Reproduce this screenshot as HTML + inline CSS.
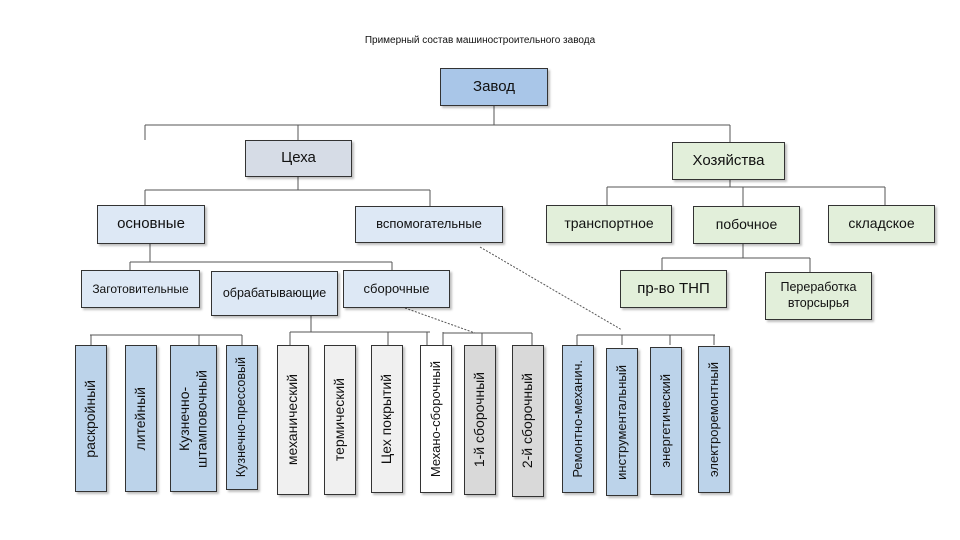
<!DOCTYPE html>
<html><head><meta charset="utf-8"><style>
body{margin:0;width:960px;height:540px;background:#fff;position:relative;overflow:hidden;font-family:"Liberation Sans",sans-serif;color:#111}
.b{position:absolute;box-sizing:border-box;border:1.5px solid #333;display:flex;align-items:center;justify-content:center;text-align:center;box-shadow:2px 2px 2px rgba(0,0,0,.25);line-height:1.25}
.v{writing-mode:vertical-rl;transform:rotate(180deg);font-size:12.5px}
.bl{background:#dde8f5}.gr{background:#e2efda}.db{background:#bcd3ea}.lg{background:#f0f0f0}.mg{background:#d9d9d9}.wh{background:#fff}
svg{position:absolute;left:0;top:0}
</style></head><body>
<div style="position:absolute;left:0;width:960px;top:35px;text-align:center;font-size:10px">Примерный состав машиностроительного завода</div>
<svg width="960" height="540" stroke="#555" stroke-width="1" fill="none">
<path d="M494 106V125M145 125H730M145 125V140M298 125V140M730 125V142"/>
<path d="M298 177V190M145 190H430M145 190V205M430 190V206"/>
<path d="M730 180V187M607 187H885M607 187V205M743 187V206M885 187V205"/>
<path d="M743 244V258M662 258H810M662 258V270M810 258V272"/>
<path d="M150 244V262M130 262H392M130 262V270M392 262V270"/>
<path d="M311 316V332M290 332H430M290 332V345M388 332V345M427 332V345M443 332V345"/>
<path d="M90 335H242M91 335V345M199 335V345M242 335V345"/>
<path d="M443 333H532M482 333V345M532 333V345"/>
<path d="M577 335H715M577 335V345M622 335V345M670 335V345M714 335V345"/>
<path d="M405 308L475 333M480 247L622 330" stroke-dasharray="2,1.5"/>
</svg>
<div class="b" style="left:440px;top:68px;width:108px;height:38px;background:#a9c6e8;font-size:15px">Завод</div>
<div class="b" style="left:245px;top:140px;width:107px;height:37px;background:#d6dce6;font-size:15px">Цеха</div>
<div class="b gr" style="left:672px;top:142px;width:113px;height:38px;font-size:15px">Хозяйства</div>
<div class="b bl" style="left:97px;top:205px;width:108px;height:39px;font-size:15px">основные</div>
<div class="b bl" style="left:355px;top:206px;width:148px;height:37px;font-size:13px">вспомогательные</div>
<div class="b gr" style="left:546px;top:205px;width:126px;height:38px;font-size:14px">транспортное</div>
<div class="b gr" style="left:693px;top:206px;width:107px;height:38px;font-size:14px">побочное</div>
<div class="b gr" style="left:828px;top:205px;width:107px;height:38px;font-size:14px">складское</div>
<div class="b gr" style="left:620px;top:270px;width:107px;height:38px;font-size:15px">пр-во ТНП</div>
<div class="b gr" style="left:765px;top:272px;width:107px;height:48px;font-size:12.5px">Переработка<br>вторсырья</div>
<div class="b bl" style="left:81px;top:270px;width:119px;height:38px;font-size:12px">Заготовительные</div>
<div class="b bl" style="left:211px;top:271px;width:127px;height:45px;font-size:12.5px">обрабатывающие</div>
<div class="b bl" style="left:343px;top:270px;width:107px;height:38px;font-size:13px">сборочные</div>
<div class="b db" style="left:75px;top:345px;width:32px;height:147px"><span class="v" style="font-size:14px">раскройный</span></div>
<div class="b db" style="left:125px;top:345px;width:32px;height:147px"><span class="v" style="font-size:14px">литейный</span></div>
<div class="b db" style="left:170px;top:345px;width:47px;height:147px"><span class="v" style="font-size:14px">Кузнечно-<br>штамповочный</span></div>
<div class="b db" style="left:226px;top:345px;width:32px;height:145px"><span class="v">Кузнечно-прессовый</span></div>
<div class="b lg" style="left:277px;top:345px;width:32px;height:150px"><span class="v" style="font-size:14px">механический</span></div>
<div class="b lg" style="left:324px;top:345px;width:32px;height:150px"><span class="v" style="font-size:14px">термический</span></div>
<div class="b lg" style="left:371px;top:345px;width:32px;height:148px"><span class="v" style="font-size:14px">Цех покрытий</span></div>
<div class="b wh" style="left:420px;top:345px;width:32px;height:148px"><span class="v" style="font-size:13px">Механо-сборочный</span></div>
<div class="b mg" style="left:464px;top:345px;width:32px;height:150px"><span class="v" style="font-size:14px">1-й сборочный</span></div>
<div class="b mg" style="left:512px;top:345px;width:32px;height:152px"><span class="v" style="font-size:14px">2-й сборочный</span></div>
<div class="b db" style="left:562px;top:345px;width:32px;height:148px"><span class="v" style="font-size:13px">Ремонтно-механич.</span></div>
<div class="b db" style="left:606px;top:348px;width:32px;height:148px"><span class="v" style="font-size:13px">инструментальный</span></div>
<div class="b db" style="left:650px;top:347px;width:32px;height:148px"><span class="v" style="font-size:13px">энергетический</span></div>
<div class="b db" style="left:698px;top:346px;width:32px;height:147px"><span class="v" style="font-size:13px">электроремонтный</span></div>
</body></html>
